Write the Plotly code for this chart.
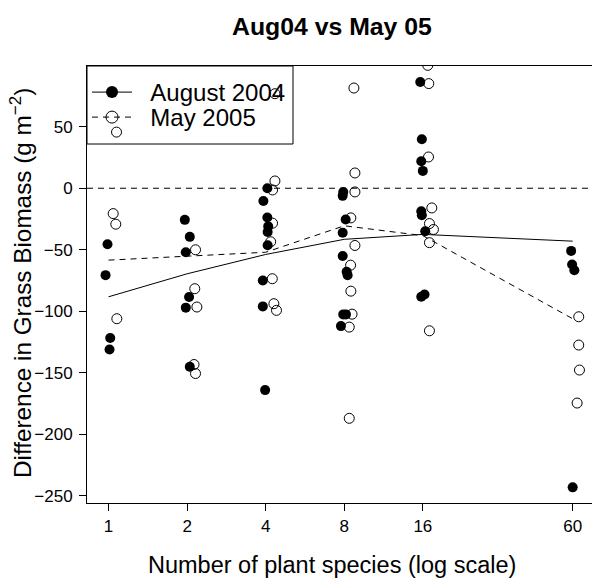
import plotly.graph_objects as go
import math

# ---- data ----
richness = [1, 2, 4, 8, 16, 60]
tick_labels = ["1", "2", "4", "8", "16", "60"]

# August 2004 (filled circles), jittered species number and value
aug_x = [0.991, 0.974, 1.015, 1.009,
         1.96, 2.048, 1.977, 2.035, 1.977, 2.048,
         4.06, 3.92, 4.06, 4.09, 4.07, 4.07, 3.90, 3.90, 3.98,
         7.93, 7.89, 8.10, 7.89, 7.89, 8.17, 8.24, 7.93, 8.12, 7.77,
         15.64, 15.86, 15.78, 16.0, 15.78, 15.86, 16.34, 15.78, 16.24,
         59.2, 59.7, 60.9, 60.0]
aug_y = [-45.5, -70.6, -121.6, -131.0,
         -25.7, -39.5, -52.0, -88.4, -97.0, -145.0,
         0.0, -10.3, -23.8, -31.0, -35.5, -46.3, -75.0, -96.0, -164.0,
         -3.0, -6.2, -25.4, -36.2, -55.0, -67.9, -70.6, -102.5, -102.5, -112.0,
         86.3, 39.8, 21.9, 14.1, -18.7, -21.9, -35.0, -88.2, -86.3,
         -50.9, -62.0, -66.6, -243.0]

# May 2005 (open circles)
may_x = [1.042, 1.066, 1.076, 1.073,
         2.154, 2.14, 2.18, 2.126, 2.154,
         4.34, 4.34, 4.25, 4.25, 4.18, 4.24, 4.30, 4.40,
         8.71, 8.79, 8.79, 8.48, 8.79, 8.46, 8.48, 8.57, 8.36, 8.36,
         16.71, 16.86, 16.82, 17.32, 16.96, 17.57, 16.96, 16.96,
         63.3, 63.3, 63.7, 62.4]
may_y = [-20.6, -29.2, -106.0, 45.6,
         -50.0, -81.6, -96.5, -143.2, -150.5,
         76.8, 5.9, -1.4, -28.4, -43.5, -73.5, -93.8, -99.2,
         81.4, 12.4, -3.0, -24.1, -46.5, -62.5, -83.6, -102.3, -112.8, -186.9,
         99.8, 85.0, 25.4, -16.0, -28.7, -33.5, -44.2, -115.8,
         -104.4, -127.4, -147.7, -174.5]

# summary lines
aug_line = [-88.2, -69.5, -53.8, -41.5, -37.5, -43.0]
may_line = [-58.4, -55.3, -52.0, -30.5, -38.5, -106.0]

y_ticks = [-250, -200, -150, -100, -50, 0, 50]

FONT = "Liberation Sans, Arial, Helvetica, sans-serif"
DASH = "6px,5px"
NB = "\u00a0\u00a0"

fig = go.Figure()

fig.add_trace(go.Scatter(x=richness, y=aug_line, mode="lines",
                         line=dict(color="black", width=1), showlegend=False))
fig.add_trace(go.Scatter(x=richness, y=may_line, mode="lines",
                         line=dict(color="black", width=1, dash=DASH), showlegend=False))
fig.add_trace(go.Scatter(x=aug_x, y=aug_y, mode="markers",
                         marker=dict(symbol="circle", size=10, color="black",
                                     line=dict(width=0)), showlegend=False))
fig.add_trace(go.Scatter(x=may_x, y=may_y, mode="markers",
                         marker=dict(symbol="circle-open", size=10, color="black",
                                     line=dict(width=1, color="black")), showlegend=False))

# legend entries (one per legend so the rows can be spaced like the reference)
fig.add_trace(go.Scatter(x=[None], y=[None], mode="lines+markers", name=NB + "August 2004",
                         line=dict(color="black", width=1),
                         marker=dict(symbol="circle", size=12, color="black"),
                         legend="legend"))
fig.add_trace(go.Scatter(x=[None], y=[None], mode="lines+markers", name=NB + "May 2005",
                         line=dict(color="black", width=1, dash=DASH),
                         marker=dict(symbol="circle-open", size=12, color="black",
                                     line=dict(width=1, color="black")),
                         legend="legend2"))

W, H = 592, 578
L, R, T, B = 87, 0, 66, 75
pw = W - L - R
ph = H - T - B

x_lo = math.log10(2 ** -0.274)
x_hi = math.log10(2 ** ((592 - 109) / 78.5))

leg_common = dict(x=0.0, xanchor="left", yanchor="top",
                  bgcolor="rgba(0,0,0,0)", borderwidth=0,
                  font=dict(size=24, family=FONT, color="black"),
                  itemwidth=40, tracegroupgap=0)

fig.update_layout(
    width=W, height=H,
    margin=dict(l=L, r=R, t=T, b=B, pad=0),
    paper_bgcolor="white", plot_bgcolor="white",
    font=dict(family=FONT, color="black", size=17),
    showlegend=True,
    legend=dict(y=1 - 4 / ph, **leg_common),
    legend2=dict(y=1 - 29 / ph, **leg_common),
    xaxis=dict(type="log", range=[x_lo, x_hi],
               tickvals=richness, ticktext=tick_labels,
               ticks="outside", ticklen=7, tickwidth=1, tickcolor="black",
               showline=True, linecolor="black", linewidth=1, mirror=True,
               showgrid=False, zeroline=False,
               tickfont=dict(size=17, family=FONT), ticklabelstandoff=1),
    yaxis=dict(range=[-255.7, 99.3], tickvals=y_ticks,
               ticks="outside", ticklen=7, tickwidth=1, tickcolor="black",
               showline=True, linecolor="black", linewidth=1, mirror=False,
               showgrid=False, zeroline=False,
               tickfont=dict(size=17, family=FONT), ticklabelstandoff=3),
    shapes=[
        dict(type="line", xref="paper", yref="y", x0=0, x1=1, y0=0, y1=0,
             line=dict(color="black", width=1, dash=DASH)),
        dict(type="rect", xref="paper", yref="paper",
             x0=0, x1=(293 - L) / pw, y0=1 - (144 - T) / ph, y1=1,
             line=dict(color="black", width=1), fillcolor="rgba(0,0,0,0)"),
    ],
    annotations=[
        dict(text="<b>Aug04 vs May 05</b>", xref="paper", yref="paper",
             x=(332 - L) / pw, y=1 + (T - 27) / ph, xanchor="center", yanchor="middle",
             showarrow=False, font=dict(size=24.8, family=FONT)),
        dict(text="Number of plant species (log scale)", xref="paper", yref="paper",
             x=(332 - L) / pw, y=-(565 - (T + ph)) / ph, xanchor="center", yanchor="middle",
             showarrow=False, font=dict(size=23.5, family=FONT)),
        dict(text="Difference in Grass Biomass (g m<sup>\u22122</sup>)", xref="paper", yref="paper",
             x=-(L - 21) / pw, y=1 - (283 - T) / ph, xanchor="center", yanchor="middle",
             textangle=-90, showarrow=False, font=dict(size=24.3, family=FONT)),
    ],
)

fig.write_html("out.html")
